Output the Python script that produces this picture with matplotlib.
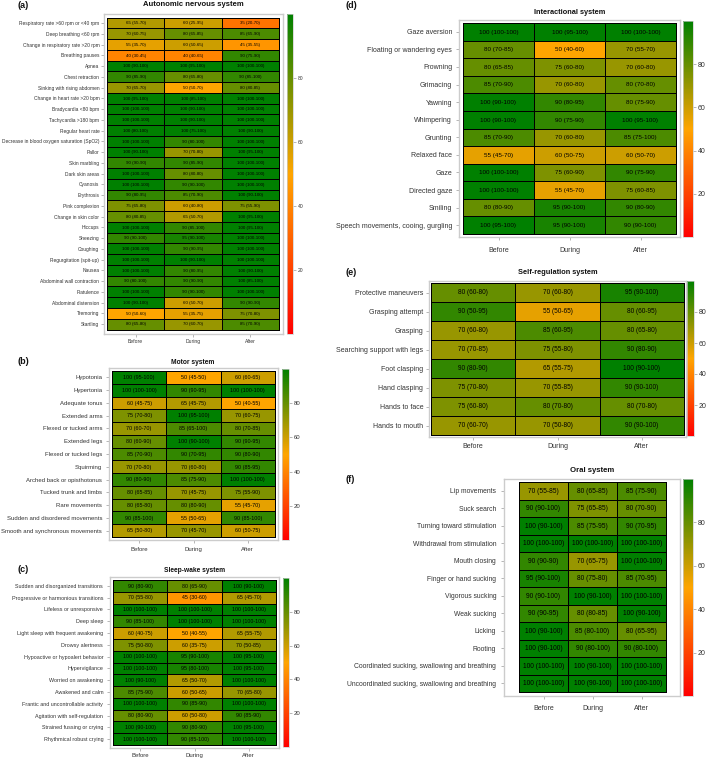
import numpy as np
import matplotlib
matplotlib.use("Agg")
import matplotlib.pyplot as plt
from matplotlib.colors import LinearSegmentedColormap, Normalize
from matplotlib.cm import ScalarMappable

plt.rcParams['font.family'] = ['Liberation Sans', 'DejaVu Sans']

phases = ["Before", "During", "After"]

# (a) Autonomic nervous system
rows_a = ["Respiratory rate >60 rpm or <40 rpm", "Deep breathing <60 rpm",
          "Change in respiratory rate >20 rpm", "Breathing pauses", "Apnea",
          "Chest retraction", "Sinking with rising abdomen",
          "Change in heart rate >20 bpm", "Bradycardia <80 bpm",
          "Tachycardia >180 bpm", "Regular heart rate",
          "Decrease in blood oxygen saturation (SpO2)", "Pallor", "Skin marbling",
          "Dark skin areas", "Cyanosis", "Erythrosis", "Pink complexion",
          "Change in skin color", "Hiccups", "Sneezing", "Coughing",
          "Regurgitation (spit-up)", "Nausea", "Abdominal wall contraction",
          "Flatulence", "Abdominal distension", "Tremoring", "Startling"]
med_a = [[65, 60, 35], [70, 80, 85], [55, 60, 45], [40, 40, 90], [100, 100, 100],
         [90, 80, 90], [70, 50, 80], [100, 100, 100], [100, 100, 100], [100, 100, 100],
         [100, 100, 100], [100, 90, 100], [100, 70, 100], [90, 90, 100], [100, 80, 100],
         [100, 90, 100], [90, 85, 100], [75, 60, 75], [80, 65, 100], [100, 90, 100],
         [90, 95, 100], [100, 90, 100], [100, 100, 100], [100, 90, 100], [90, 90, 100],
         [100, 90, 100], [100, 60, 90], [50, 55, 75], [80, 70, 85]]
q1_a = [[55, 25, 20], [60, 65, 65], [35, 50, 35], [30, 40, 75], [90, 95, 100],
        [85, 65, 85], [65, 50, 80], [95, 85, 100], [100, 90, 100], [100, 90, 100],
        [80, 75, 90], [100, 80, 100], [90, 70, 95], [90, 85, 100], [100, 80, 100],
        [100, 90, 100], [80, 70, 90], [65, 40, 55], [80, 50, 95], [100, 85, 95],
        [90, 90, 100], [100, 90, 100], [100, 90, 100], [100, 80, 90], [80, 90, 85],
        [100, 90, 100], [90, 50, 90], [50, 35, 70], [65, 60, 70]]
q3_a = [[70, 95, 70], [75, 85, 90], [70, 65, 55], [45, 65, 90], [100, 100, 100],
        [90, 80, 100], [70, 70, 85], [100, 100, 100], [100, 100, 100], [100, 100, 100],
        [100, 100, 100], [100, 100, 100], [100, 80, 100], [90, 90, 100], [100, 80, 100],
        [100, 100, 100], [95, 90, 100], [80, 80, 90], [85, 70, 100], [100, 100, 100],
        [100, 100, 100], [100, 95, 100], [100, 100, 100], [100, 95, 100], [100, 90, 100],
        [100, 100, 100], [100, 70, 90], [60, 75, 80], [80, 70, 90]]

# (b) Motor system
rows_b = ["Hypotonia", "Hypertonia", "Adequate tonus", "Extended arms",
          "Flexed or tucked arms", "Extended legs", "Flexed or tucked legs",
          "Squirming", "Arched back or opisthotonus", "Tucked trunk and limbs",
          "Rare movements", "Sudden and disordered movements",
          "Smooth and synchronous movements"]
med_b = [[100, 50, 60], [100, 90, 100], [60, 65, 50], [75, 100, 70], [70, 85, 80],
         [80, 100, 90], [85, 90, 90], [70, 70, 90], [90, 85, 100], [80, 70, 75],
         [80, 80, 55], [90, 55, 90], [65, 70, 60]]
q1_b = [[95, 45, 60], [100, 90, 100], [45, 45, 40], [70, 95, 60], [60, 65, 70],
        [60, 90, 90], [70, 70, 80], [70, 60, 85], [80, 75, 100], [65, 45, 55],
        [65, 80, 45], [85, 50, 85], [50, 45, 50]]
q3_b = [[100, 50, 65], [100, 95, 100], [75, 75, 55], [80, 100, 75], [70, 100, 85],
        [90, 100, 95], [90, 95, 90], [80, 80, 95], [90, 90, 100], [85, 75, 90],
        [80, 90, 70], [100, 65, 100], [80, 70, 75]]

# (c) Sleep-wake system
rows_c = ["Sudden and disorganized transitions", "Progressive or harmonious transitions",
          "Lifeless or unresponsive", "Deep sleep", "Light sleep with frequent awakening",
          "Drowsy alertness", "Hypoactive or hypoalert behavior", "Hypervigilance",
          "Worried on awakening", "Awakened and calm",
          "Frantic and uncontrollable activity", "Agitation with self-regulation",
          "Strained fussing or crying", "Rhythmical robust crying"]
med_c = [[90, 80, 100], [70, 45, 65], [100, 100, 100], [90, 100, 100], [60, 50, 65],
         [75, 60, 70], [100, 95, 100], [100, 95, 100], [100, 65, 100], [85, 60, 70],
         [100, 90, 100], [80, 60, 90], [100, 90, 100], [100, 90, 100]]
q1_c = [[80, 65, 90], [55, 30, 45], [100, 100, 100], [85, 100, 100], [40, 40, 55],
        [50, 35, 50], [100, 90, 95], [100, 80, 95], [90, 50, 100], [75, 50, 65],
        [100, 85, 100], [80, 50, 85], [90, 80, 95], [100, 85, 100]]
q3_c = [[90, 90, 100], [80, 60, 70], [100, 100, 100], [100, 100, 100], [75, 55, 75],
        [80, 75, 85], [100, 100, 100], [100, 100, 100], [100, 70, 100], [90, 65, 80],
        [100, 90, 100], [90, 80, 90], [100, 90, 100], [100, 100, 100]]

# (d) Interactional system
rows_d = ["Gaze aversion", "Floating or wandering eyes", "Frowning", "Grimacing",
          "Yawning", "Whimpering", "Grunting", "Relaxed face", "Gaze", "Directed gaze",
          "Smiling", "Speech movements, cooing, gurgling"]
med_d = [[100, 100, 100], [80, 50, 70], [80, 75, 70], [85, 70, 80], [100, 90, 80],
         [100, 90, 100], [85, 70, 85], [55, 60, 60], [100, 75, 90], [100, 55, 75],
         [80, 95, 90], [100, 95, 90]]
q1_d = [[100, 95, 100], [70, 40, 55], [65, 60, 60], [70, 60, 70], [90, 80, 75],
        [90, 75, 95], [70, 60, 75], [45, 50, 50], [100, 60, 75], [100, 45, 60],
        [80, 90, 80], [95, 90, 90]]
q3_d = [[100, 100, 100], [85, 60, 70], [85, 80, 80], [90, 80, 80], [100, 95, 90],
        [100, 90, 100], [90, 80, 100], [70, 75, 70], [100, 90, 90], [100, 70, 85],
        [90, 100, 90], [100, 100, 100]]

# (e) Self-regulation system
rows_e = ["Protective maneuvers", "Grasping attempt", "Grasping",
          "Searching support with legs", "Foot clasping", "Hand clasping",
          "Hands to face", "Hands to mouth"]
med_e = [[80, 70, 95], [90, 55, 80], [70, 85, 80], [70, 75, 90], [90, 65, 100],
         [75, 70, 90], [75, 80, 80], [70, 70, 90]]
q1_e = [[60, 60, 90], [50, 50, 60], [60, 60, 65], [70, 55, 80], [80, 55, 90],
        [70, 55, 90], [60, 70, 70], [60, 50, 90]]
q3_e = [[80, 80, 100], [95, 65, 95], [80, 95, 80], [85, 80, 90], [90, 75, 100],
        [80, 85, 100], [80, 80, 80], [70, 80, 100]]

# (f) Oral system
rows_f = ["Lip movements", "Suck search", "Turning toward stimulation",
          "Withdrawal from stimulation", "Mouth closing", "Finger or hand sucking",
          "Vigorous sucking", "Weak sucking", "Licking", "Rooting",
          "Coordinated sucking, swallowing and breathing",
          "Uncoordinated sucking, swallowing and breathing"]
med_f = [[70, 80, 85], [90, 75, 80], [100, 85, 90], [100, 100, 100], [90, 70, 100],
         [95, 80, 85], [90, 100, 100], [90, 80, 100], [100, 85, 80], [100, 90, 90],
         [100, 100, 100], [100, 100, 100]]
q1_f = [[55, 65, 75], [90, 65, 70], [90, 75, 70], [100, 100, 100], [90, 65, 100],
        [90, 75, 70], [90, 90, 100], [90, 80, 90], [90, 80, 65], [90, 80, 80],
        [100, 90, 100], [100, 90, 100]]
q3_f = [[85, 85, 90], [100, 85, 90], [100, 95, 95], [100, 100, 100], [90, 75, 100],
        [100, 80, 95], [100, 100, 100], [95, 85, 100], [100, 100, 95], [100, 100, 100],
        [100, 100, 100], [100, 100, 100]]

W, H = 709, 759
fig = plt.figure(figsize=(W / 100, H / 100), dpi=100)
cmap = LinearSegmentedColormap.from_list(
    "rog", [(0, "#ff0000"), (0.5, "#ffa500"), (1, "#008000")])
norm = Normalize(0, 100)


def px_axes(x0, y0, x1, y1):
    return fig.add_axes([x0 / W, 1 - y1 / H, (x1 - x0) / W, (y1 - y0) / H])


def draw_panel(tag, title, rows, med, lo, hi, frame, cells, cbar, title_xy, tag_xy,
               fs_y, fs_cell, fs_title, fs_x, ypad, xpad):
    n = len(rows)
    fx0, fy0, fx1, fy1 = frame
    cx0, cy0, cx1, cy1 = cells
    xs = 3 / (cx1 - cx0)
    ys = n / (cy1 - cy0)
    ax = px_axes(*frame)
    ax.pcolormesh(np.arange(4), np.arange(n + 1), np.array(med), cmap=cmap, norm=norm,
                  edgecolors="black", linewidth=0.5)
    ax.set_xlim(-(cx0 - fx0) * xs, 3 + (fx1 - cx1) * xs)
    ax.set_ylim(n + (fy1 - cy1) * ys, -(cy0 - fy0) * ys)
    for i in range(n):
        for j in range(3):
            ax.text(j + 0.5, i + 0.52, f"{med[i][j]} ({lo[i][j]}-{hi[i][j]})",
                    ha="center", va="center", fontsize=fs_cell, color="black")
    ax.set_xticks([0.5, 1.5, 2.5])
    ax.set_xticklabels(phases, fontsize=fs_x)
    ax.set_yticks(np.arange(n) + 0.5)
    ax.set_yticklabels(rows, fontsize=fs_y)
    ax.tick_params(axis="x", length=2, width=0.5, color="#999999",
                   labelcolor="#333333", pad=xpad)
    ax.tick_params(axis="y", length=2, width=0.5, color="#999999",
                   labelcolor="#333333", pad=ypad)
    for s in ax.spines.values():
        s.set_color("#cccccc")
        s.set_linewidth(1.0)

    cax = px_axes(*cbar)
    cb = fig.colorbar(ScalarMappable(norm=norm, cmap=cmap), cax=cax)
    cb.set_ticks([20, 40, 60, 80])
    cax.tick_params(labelsize=fs_x, length=2, width=0.5, color="#999999",
                    labelcolor="#333333", pad=1.5)
    cb.outline.set_edgecolor("#cccccc")
    cb.outline.set_linewidth(0.5)

    fig.text(title_xy[0] / W, 1 - title_xy[1] / H, title, ha="center", va="center",
             fontsize=fs_title, fontweight="bold", color="#111111")
    fig.text(tag_xy[0] / W, 1 - tag_xy[1] / H, tag, ha="left", va="center",
             fontsize=6.5, fontweight="bold", color="#111111")


draw_panel("(a)", "Autonomic nervous system", rows_a, med_a, q1_a, q3_a,
           (104, 14, 283, 334), (107, 17.7, 279, 329.5), (287, 14, 293, 334),
           (193, 5), (17, 5), 3.5, 3.2, 5.5, 3.6, 1.4, 1.8)
draw_panel("(b)", "Motor system", rows_b, med_b, q1_b, q3_b,
           (109, 368, 278, 540), (112, 371, 275, 537), (282, 369, 289, 540),
           (193, 362), (18, 361), 4.3, 3.9, 4.8, 4.3, 2.9, 2.9)
draw_panel("(c)", "Sleep-wake system", rows_c, med_c, q1_c, q3_c,
           (110, 577, 279, 748), (113, 580, 276, 745), (283, 578, 289, 747),
           (195, 571), (18, 569), 3.9, 3.8, 4.8, 4.3, 2.9, 1.4)
draw_panel("(d)", "Interactional system", rows_d, med_d, q1_d, q3_d,
           (459, 20, 680, 237), (463, 23, 676, 234), (683, 21, 693, 237),
           (570, 12), (346, 5), 5.0, 4.5, 5.3, 5.0, 2.9, 5.0)
draw_panel("(e)", "Self-regulation system", rows_e, med_e, q1_e, q3_e,
           (429, 281, 686, 437), (431, 283, 684, 435), (687, 281, 694, 436),
           (558, 273), (346, 273), 5.0, 4.7, 5.3, 5.0, 2.2, 2.2)
draw_panel("(f)", "Oral system", rows_f, med_f, q1_f, q3_f,
           (504, 479, 680, 696), (519, 482, 666, 692), (683, 479, 693, 696),
           (592, 471), (346, 480), 4.9, 4.8, 5.6, 5.0, 3.6, 4.3)

fig.savefig("out.png", dpi=100)
